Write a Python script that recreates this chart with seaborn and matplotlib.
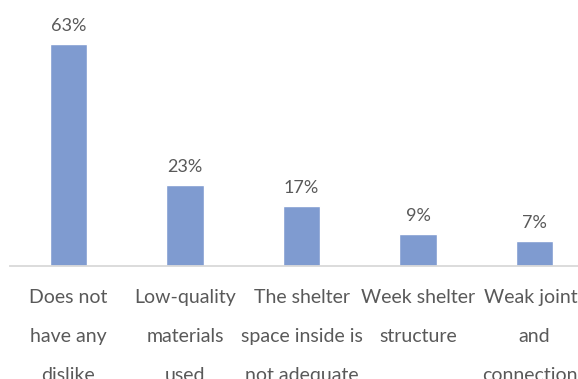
import matplotlib
matplotlib.use("Agg")
import matplotlib.pyplot as plt
import seaborn as sns
import pandas as pd

categories = [
    "Does not\nhave any\ndislike",
    "Low-quality\nmaterials\nused",
    "The shelter\nspace inside is\nnot adequate",
    "Week shelter\nstructure",
    "Weak joints\nand\nconnections",
]
values = [63, 23, 17, 9, 7]

df = pd.DataFrame({"reason": categories, "share": values})

sns.set_theme(style="white")
plt.rcParams["font.family"] = ["Lato", "DejaVu Sans"]

W, H = 578, 379
fig = plt.figure(figsize=(W / 100, H / 100), dpi=100)
# axes spans a little past the right edge of the figure
ax = fig.add_axes([10.25 / W, (H - 265.5) / H, 582.5 / W, 246.4 / H])

bar_color = "#7F9BD0"
text_color = "#595959"

sns.barplot(data=df, x="reason", y="share", color=bar_color, width=0.32,
            saturation=1, ax=ax)

ax.set_xlim(-0.5, 4.5)
ax.set_ylim(0, 70)
ax.set_xlabel("")
ax.set_ylabel("")
ax.set_yticks([])

for s in ["top", "right", "left"]:
    ax.spines[s].set_visible(False)
ax.spines["bottom"].set_color("#D9D9D9")
ax.spines["bottom"].set_linewidth(1.3)

ax.tick_params(axis="x", length=0, pad=17, labelsize=14, colors=text_color)
for lbl in ax.get_xticklabels():
    lbl.set_linespacing(2.55)
    lbl.set_color(text_color)

for i, v in enumerate(values):
    ax.annotate(f"{v}%", (i, v), xytext=(0, 7), textcoords="offset points",
                ha="center", va="bottom", fontsize=13, color=text_color)

fig.savefig("out.png", dpi=100)
